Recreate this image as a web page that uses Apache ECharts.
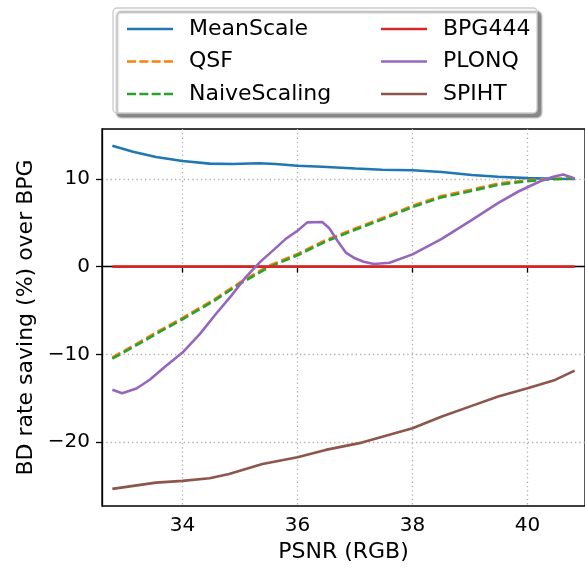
<!DOCTYPE html>
<html>
<head>
<meta charset="utf-8">
<script src="https://cdn.jsdelivr.net/npm/echarts@6/dist/echarts.min.js"></script>
<style>
html,body{margin:0;padding:0;background:#fff;}
#chart{width:585px;height:573px;}
</style>
</head>
<body>
<div id="chart"></div>
<script>
// ---- data ----
const xTicks = [34, 36, 38, 40];
const yTicks = [-20, -10, 0, 10];

const meanScaleX = [32.78, 33.14, 33.54, 34.0, 34.47, 34.87, 35.33, 35.62, 36.0, 36.43, 37.01, 37.47, 38.0, 38.51, 39.03, 39.49, 40.0, 40.48, 40.82];
const meanScaleY = [13.8, 13.1, 12.5, 12.05, 11.75, 11.7, 11.8, 11.7, 11.5, 11.4, 11.2, 11.06, 11.0, 10.8, 10.46, 10.25, 10.1, 10.03, 10.0];

const dashX = [32.78, 33.2, 33.6, 34.0, 34.5, 35.0, 35.5, 36.0, 36.5, 37.0, 37.5, 38.0, 38.5, 39.0, 39.5, 40.0, 40.4, 40.82];
const qsfY = [-10.35, -8.8, -7.3, -5.85, -3.95, -1.8, 0.1, 1.45, 3.05, 4.35, 5.6, 6.95, 8.05, 8.75, 9.5, 9.85, 10.0, 10.08];
const naiveY = [-10.5, -8.95, -7.45, -6.0, -4.1, -1.95, -0.05, 1.3, 2.9, 4.2, 5.45, 6.8, 7.9, 8.6, 9.35, 9.75, 9.95, 10.05];

const bpgX = [32.78, 40.82];
const bpgY = [0, 0];

const plonqX = [32.78, 32.95, 33.2, 33.43, 33.7, 34.0, 34.3, 34.58, 34.85, 35.1, 35.36, 35.6, 35.8, 36.0, 36.17, 36.43, 36.55, 36.7, 36.84, 37.0, 37.15, 37.33, 37.6, 38.0, 38.5, 39.0, 39.5, 39.85, 40.24, 40.45, 40.62, 40.82];
const plonqY = [-14.05, -14.45, -13.9, -12.9, -11.4, -9.8, -7.7, -5.4, -3.3, -1.2, 0.6, 2.0, 3.2, 4.1, 5.05, 5.1, 4.4, 2.9, 1.6, 0.95, 0.55, 0.3, 0.45, 1.4, 3.15, 5.2, 7.3, 8.6, 9.8, 10.25, 10.5, 10.05];

const spihtX = [32.78, 33.54, 34.0, 34.47, 34.81, 35.39, 36.0, 36.49, 37.12, 38.0, 38.51, 39.03, 39.49, 40.0, 40.48, 40.82];
const spihtY = [-25.35, -24.63, -24.43, -24.13, -23.64, -22.5, -21.74, -20.9, -20.07, -18.43, -17.1, -15.88, -14.82, -13.87, -12.92, -11.86];

const zip = (xs, ys) => xs.map((x, i) => [x, ys[i]]);
const FONT = 'DejaVu Sans';

const SOLID_ICON = 'path://M0,0h46v2.6h-46z';
const DASH_ICON = 'path://M0,0h9v2.6h-9z M12.33,0h9v2.6h-9z M24.67,0h9v2.6h-9z M37,0h9v2.6h-9z';

const seriesDefs = [
  {name: 'MeanScale', x: meanScaleX, y: meanScaleY, color: '#1f77b4', type: 'solid'},
  {name: 'QSF', x: dashX, y: qsfY, color: '#ff7f0e', type: [9, 4]},
  {name: 'NaiveScaling', x: dashX, y: naiveY, color: '#2ca02c', type: [9, 4]},
  {name: 'BPG444', x: bpgX, y: bpgY, color: '#d62728', type: 'solid'},
  {name: 'PLONQ', x: plonqX, y: plonqY, color: '#9467bd', type: 'solid'},
  {name: 'SPIHT', x: spihtX, y: spihtY, color: '#8c564b', type: 'solid'}
];

const legendItem = name => {
  const s = seriesDefs.find(d => d.name === name);
  return {name: name, icon: s.type === 'solid' ? SOLID_ICON : DASH_ICON,
    itemStyle: {color: s.color, borderWidth: 0, opacity: 1}};
};

const chart = echarts.init(document.getElementById('chart'), null, {renderer: 'canvas'});

const legendCommon = {
  orient: 'vertical',
  top: 13,
  itemWidth: 46,
  itemHeight: 2.6,
  itemGap: 10.5,
  symbolKeepAspect: false,
  z: 10,
  textStyle: {fontFamily: FONT, fontSize: 22, color: '#000', lineHeight: 22, padding: [0, 0, 0, 11]},
  selectedMode: false
};

const splitLine = {show: true, lineStyle: {color: '#b0b0b0', width: 1.3, type: [1.3, 3]}};

chart.setOption({
  animation: false,
  backgroundColor: '#fff',
  graphic: [{
    type: 'rect',
    z: 1,
    shape: {x: 113, y: 8, width: 424, height: 105, r: 4},
    style: {fill: '#fff', stroke: '#cccccc', lineWidth: 1.3,
      shadowColor: 'rgba(0,0,0,0.45)', shadowOffsetX: 4, shadowOffsetY: 4, shadowBlur: 2}
  }],
  legend: [
    Object.assign({}, legendCommon, {left: 122, data: ['MeanScale', 'QSF', 'NaiveScaling'].map(legendItem)}),
    Object.assign({}, legendCommon, {left: 376, data: ['BPG444', 'PLONQ', 'SPIHT'].map(legendItem)})
  ],
  grid: {left: 102, right: -2, top: 129, bottom: 67, show: true, borderColor: '#000', borderWidth: 1.3, backgroundColor: 'transparent'},
  xAxis: {
    type: 'value', min: 32.6, max: 41.0,
    name: 'PSNR (RGB)', nameLocation: 'middle', nameGap: 31,
    nameTextStyle: {fontFamily: FONT, fontSize: 22, color: '#000'},
    axisLine: {show: true, lineStyle: {color: '#000', width: 1.3}},
    axisTick: {show: true, length: 6, lineStyle: {color: '#000', width: 1.3}, customValues: xTicks},
    axisLabel: {fontFamily: FONT, fontSize: 20, color: '#000', margin: 10, customValues: xTicks},
    splitLine: splitLine
  },
  yAxis: {
    type: 'value', min: -27.3, max: 15.7,
    name: 'BD rate saving (%) over BPG', nameLocation: 'middle', nameGap: 64, nameRotate: 90,
    nameTextStyle: {fontFamily: FONT, fontSize: 22, color: '#000'},
    axisLine: {show: true, lineStyle: {color: '#000', width: 1.3}},
    axisTick: {show: true, length: 6, lineStyle: {color: '#000', width: 1.3}, customValues: yTicks},
    axisLabel: {fontFamily: FONT, fontSize: 20, color: '#000', margin: 12, customValues: yTicks,
      formatter: v => String(v).replace('-', '\u2212')},
    splitLine: splitLine
  },
  series: seriesDefs.map(s => ({
    name: s.name, type: 'line', data: zip(s.x, s.y), symbol: 'none', showSymbol: false,
    color: s.color,
    lineStyle: {color: s.color, width: 2.6, type: s.type},
    emphasis: {disabled: true}
  }))
});
</script>
</body>
</html>
